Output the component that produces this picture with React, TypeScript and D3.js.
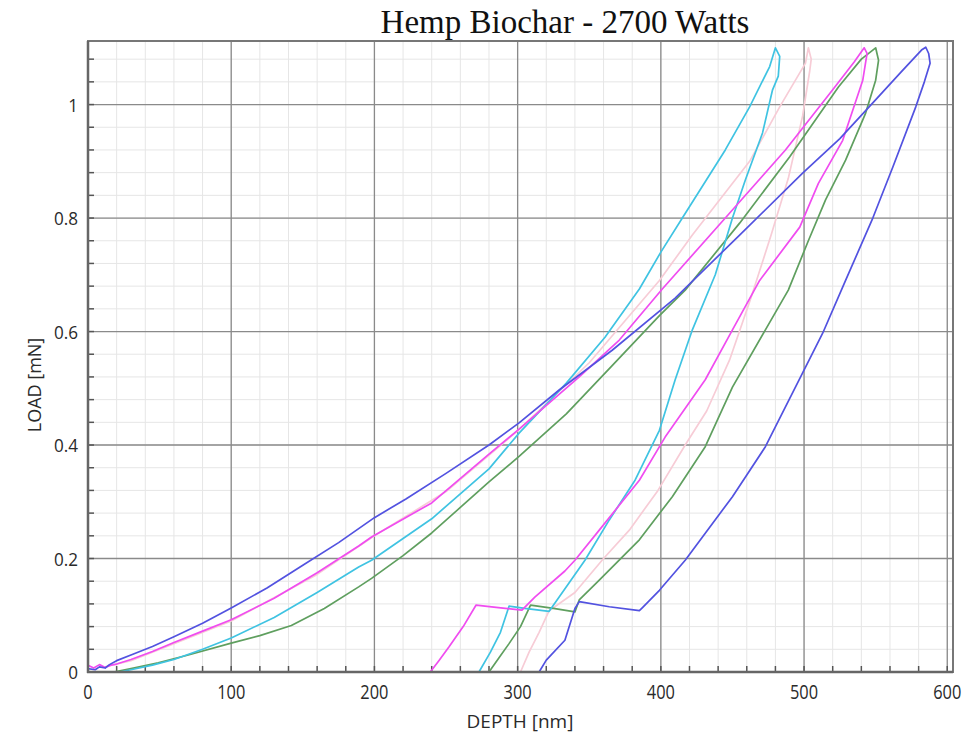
import React, { useEffect, useRef } from 'react';
import * as d3 from 'd3';

// depth [nm], load [mN], in test order: load, unload, hold, final unload
const blueCurve: [number, number][] = [
  [0, 0.006], [5, 0.004], [8, 0.009], [12, 0.007], [15, 0.013], [20, 0.02], [30, 0.03], [45, 0.045],
  [60, 0.062], [80, 0.086],
  [100, 0.113], [125, 0.148], [150, 0.188], [175, 0.228], [200, 0.272], [222, 0.305], [250, 0.35],
  [280, 0.4], [301, 0.439], [329, 0.497], [366, 0.567], [410, 0.659], [455, 0.77], [499, 0.879],
  [525, 0.94], [548, 1.003], [568, 1.058], [582, 1.096], [585, 1.101], [587, 1.09], [588, 1.073],
  [584, 1.04], [578, 0.996], [562, 0.89], [548, 0.8], [529, 0.69], [513, 0.597], [499, 0.527],
  [473, 0.397], [450, 0.309], [417, 0.197], [399, 0.144], [387, 0.113], [385, 0.108],
  [364, 0.115], [343, 0.124],
  [340, 0.112], [333, 0.056], [320, 0.021], [315, 0],
];

const magentaCurve: [number, number][] = [
  [0, 0.012], [4, 0.007], [8, 0.013], [12, 0.008], [16, 0.012], [20, 0.014], [30, 0.022], [45, 0.036],
  [60, 0.052], [80, 0.072],
  [100, 0.092], [130, 0.13], [160, 0.175], [189, 0.222], [198, 0.238], [240, 0.298], [280, 0.384],
  [301, 0.428], [343, 0.52], [371, 0.585], [401, 0.675], [445, 0.8], [487, 0.92], [520, 1.026],
  [535, 1.075], [542, 1.1], [544, 1.09],
  [541, 1.043], [527, 0.937], [510, 0.861], [497, 0.784], [469, 0.69], [450, 0.603], [431, 0.515],
  [403, 0.414], [385, 0.338], [357, 0.25], [340, 0.197], [333, 0.178], [312, 0.132], [303, 0.109],
  [285, 0.114], [271, 0.118],
  [262, 0.08], [252, 0.044], [245, 0.02], [239, 0],
];

const cyanCurve: [number, number][] = [
  [22, 0], [30, 0.004], [45, 0.012], [60, 0.022], [80, 0.04], [100, 0.06], [130, 0.096],
  [160, 0.14], [189, 0.185], [198, 0.197], [240, 0.27], [280, 0.358], [301, 0.421], [334, 0.509],
  [361, 0.59], [385, 0.675], [400, 0.74], [415, 0.8], [445, 0.92], [462, 0.996], [476, 1.067],
  [480, 1.1], [483, 1.085],
  [482, 1.05], [478, 1.026], [471, 0.95], [459, 0.867], [450, 0.8], [438, 0.7], [422, 0.603],
  [410, 0.515], [399, 0.426], [382, 0.338], [364, 0.268], [347, 0.197], [329, 0.132], [322, 0.107],
  [305, 0.112], [294, 0.116],
  [288, 0.07], [281, 0.035], [273, 0],
];

const greenCurve: [number, number][] = [
  [18, 0], [30, 0.006], [49, 0.016], [70, 0.03], [100, 0.051], [120, 0.064], [142, 0.082],
  [165, 0.112], [189, 0.15], [198, 0.165], [220, 0.205], [240, 0.245], [260, 0.29], [280, 0.335],
  [301, 0.38], [334, 0.455], [366, 0.54], [399, 0.628], [417, 0.673], [455, 0.791], [490, 0.908],
  [524, 1.031], [540, 1.08], [550, 1.1], [552, 1.078],
  [550, 1.043], [543, 0.985], [529, 0.902], [515, 0.832], [503, 0.76], [489, 0.673], [473, 0.603],
  [450, 0.502], [431, 0.397], [408, 0.309], [385, 0.233], [357, 0.162], [343, 0.127], [340, 0.106],
  [325, 0.112], [309, 0.118],
  [302, 0.08], [294, 0.05], [287, 0.025], [280, 0],
];

const pinkCurve: [number, number][] = [
  [10, 0.008], [30, 0.02], [60, 0.05], [100, 0.09], [160, 0.172], [200, 0.24], [250, 0.318],
  [300, 0.425], [350, 0.545], [399, 0.69], [422, 0.77], [462, 0.9], [483, 0.996], [501, 1.073],
  [503, 1.1], [505, 1.08],
  [504, 1.06], [499, 0.98], [489, 0.87], [477, 0.77], [463, 0.66], [448, 0.55], [432, 0.46],
  [417, 0.4], [398, 0.32], [378, 0.25], [360, 0.2], [340, 0.14], [322, 0.108],
  [315, 0.07], [308, 0.035], [302, 0],
];

const curves = [
  { data: pinkCurve, color: '#f7ccd6' },
  { data: greenCurve, color: '#5f9f5f' },
  { data: cyanCurve, color: '#3fc3e2' },
  { data: magentaCurve, color: '#f04cf0' },
  { data: blueCurve, color: '#5252e0' },
];

const xTicks = [0, 100, 200, 300, 400, 500, 600];
const yTicks = [0, 0.2, 0.4, 0.6, 0.8, 1];

const W = 979;
const H = 737;
const margin = { top: 41, right: 26, bottom: 65, left: 88 };

const LoadDepthChart = () => {
  const ref = useRef<SVGSVGElement>(null);

  useEffect(() => {
    const svg = d3.select(ref.current);
    svg.selectAll('*').remove();

    const x = d3.scaleLinear().domain([0, 604]).range([margin.left, W - margin.right]);
    const y = d3.scaleLinear().domain([0, 1.112]).range([H - margin.bottom, margin.top]);

    const minorX = d3.range(0, 604, 20);
    const minorY = d3.range(0, 1.112, 0.04);

    // minor grid
    svg.append('g')
      .selectAll('line')
      .data(minorX)
      .enter()
      .append('line')
      .attr('x1', d => x(d)).attr('x2', d => x(d))
      .attr('y1', y(0)).attr('y2', y(1.112))
      .attr('stroke', '#e6e6e6').attr('stroke-width', 1);
    svg.append('g')
      .selectAll('line')
      .data(minorY)
      .enter()
      .append('line')
      .attr('x1', x(0)).attr('x2', x(604))
      .attr('y1', d => y(d)).attr('y2', d => y(d))
      .attr('stroke', '#e6e6e6').attr('stroke-width', 1);

    // major grid
    svg.append('g')
      .selectAll('line')
      .data(xTicks.slice(1))
      .enter()
      .append('line')
      .attr('x1', d => x(d)).attr('x2', d => x(d))
      .attr('y1', y(0)).attr('y2', y(1.112))
      .attr('stroke', '#8a8a8a').attr('stroke-width', 1.3);
    svg.append('g')
      .selectAll('line')
      .data(yTicks.slice(1))
      .enter()
      .append('line')
      .attr('x1', x(0)).attr('x2', x(604))
      .attr('y1', d => y(d)).attr('y2', d => y(d))
      .attr('stroke', '#8a8a8a').attr('stroke-width', 1.3);

    // frame
    svg.append('rect')
      .attr('x', x(0)).attr('y', y(1.112))
      .attr('width', x(604) - x(0)).attr('height', y(0) - y(1.112))
      .attr('fill', 'none').attr('stroke', '#777').attr('stroke-width', 2);

    // small inward ticks
    svg.append('g')
      .selectAll('line')
      .data(minorY)
      .enter()
      .append('line')
      .attr('x1', x(0)).attr('x2', x(0) + 6)
      .attr('y1', d => y(d)).attr('y2', d => y(d))
      .attr('stroke', '#555').attr('stroke-width', 1.5);
    svg.append('g')
      .selectAll('line')
      .data(minorX)
      .enter()
      .append('line')
      .attr('x1', d => x(d)).attr('x2', d => x(d))
      .attr('y1', y(0)).attr('y2', y(0) - 6)
      .attr('stroke', '#555').attr('stroke-width', 1.5);

    // curves
    const line = d3.line<[number, number]>()
      .x(d => x(d[0]))
      .y(d => y(d[1]));

    curves.forEach(c => {
      svg.append('path')
        .datum(c.data)
        .attr('d', line)
        .attr('fill', 'none')
        .attr('stroke', c.color)
        .attr('stroke-width', 1.7)
        .attr('stroke-linejoin', 'round');
    });

    // main axes
    svg.append('line')
      .attr('x1', x(0)).attr('x2', x(0))
      .attr('y1', y(0) + 1).attr('y2', y(1.112))
      .attr('stroke', '#666').attr('stroke-width', 2.5);
    svg.append('line')
      .attr('x1', x(0) - 1).attr('x2', x(604))
      .attr('y1', y(0)).attr('y2', y(0))
      .attr('stroke', '#666').attr('stroke-width', 2.5);

    // tick labels (narrow, tall digits like the original)
    svg.append('g')
      .selectAll('text')
      .data(xTicks)
      .enter()
      .append('text')
      .attr('transform', d => `translate(${x(d)},${y(0) + 27}) scale(0.82,1)`)
      .attr('text-anchor', 'middle')
      .style('font-family', '"Open Sans", sans-serif')
      .style('font-size', '20px')
      .attr('fill', '#2a2a2a')
      .text(d => d);
    svg.append('g')
      .selectAll('text')
      .data(yTicks)
      .enter()
      .append('text')
      .attr('transform', d => `translate(${x(0) - 10},${y(d) + 7}) scale(0.9,1)`)
      .attr('text-anchor', 'end')
      .style('font-family', '"Open Sans", sans-serif')
      .style('font-size', '19px')
      .attr('fill', '#2a2a2a')
      .text(d => d);

    // titles
    svg.append('text')
      .attr('x', 565)
      .attr('y', 33)
      .attr('text-anchor', 'middle')
      .style('font-family', '"Liberation Serif", "Times New Roman", serif')
      .style('font-size', '33px')
      .attr('fill', '#111')
      .text('Hemp Biochar - 2700 Watts');

    svg.append('text')
      .attr('x', 520)
      .attr('y', 728)
      .attr('text-anchor', 'middle')
      .style('font-family', '"Open Sans", sans-serif')
      .style('font-size', '19px')
      .attr('fill', '#2a2a2a')
      .text('DEPTH [nm]');

    svg.append('text')
      .attr('transform', 'translate(41, 385) rotate(-90)')
      .attr('text-anchor', 'middle')
      .style('font-family', '"Open Sans", sans-serif')
      .style('font-size', '18px')
      .attr('fill', '#2a2a2a')
      .text('LOAD [mN]');
  }, []);

  return <svg ref={ref} width={W} height={H} style={{ display: 'block', background: '#fff' }} />;
};

export default function App() {
  return (
    <div style={{ position: 'absolute', left: 0, top: 0 }}>
      <LoadDepthChart />
    </div>
  );
}
